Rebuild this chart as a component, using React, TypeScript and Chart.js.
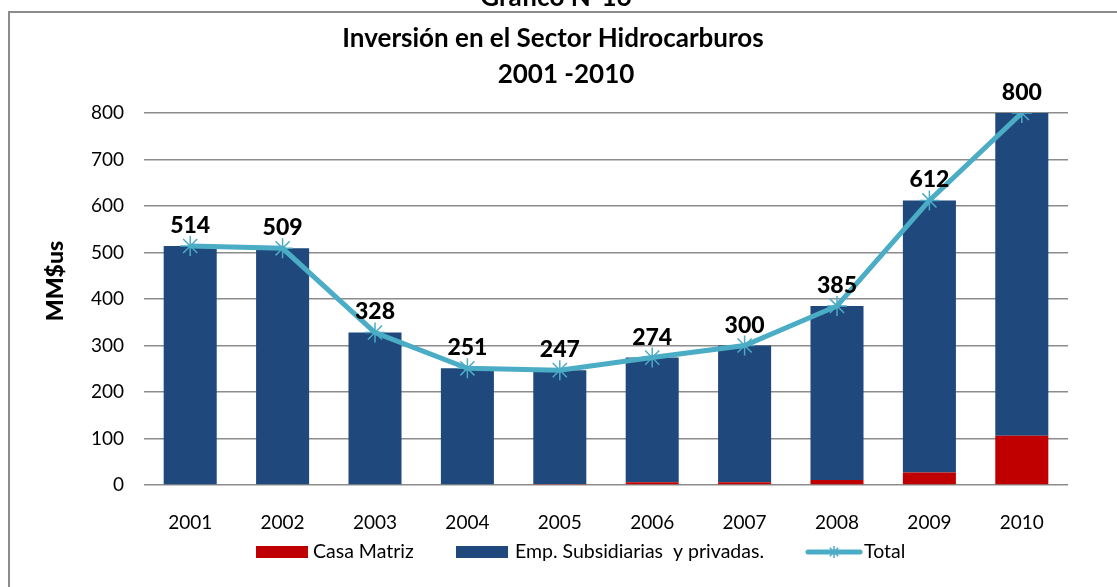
import { useEffect, useRef } from 'react';
import { Chart, registerables } from 'chart.js';

Chart.register(...registerables);

const FONT = 'Lato, "Open Sans", "DejaVu Sans", sans-serif';

const supTitle = 'Gráfico N°16';
const titleLines = ['Inversión en el Sector Hidrocarburos', '2001 -2010'];
const yAxisTitle = 'MM$us';

const years = ['2001', '2002', '2003', '2004', '2005', '2006', '2007', '2008', '2009', '2010'];
const casaMatriz = [0, 0, 0, 0, 2, 6, 6, 11, 27, 106];
const empSubsidiarias = [514, 509, 328, 251, 245, 268, 294, 374, 585, 694];
const total = [514, 509, 328, 251, 247, 274, 300, 385, 612, 800];

const seriesLabels = ['Casa Matriz', 'Emp. Subsidiarias  y privadas.', 'Total'];

const RED = '#C00000';
const BLUE = '#1F497D';
const AQUA = '#4BACC6';
const GRID = '#8c8c8c';

function drawStar(ctx: CanvasRenderingContext2D, x: number, y: number, r: number) {
  ctx.beginPath();
  for (let i = 0; i < 4; i++) {
    const a = (i * Math.PI) / 4;
    ctx.moveTo(x - Math.cos(a) * r, y - Math.sin(a) * r);
    ctx.lineTo(x + Math.cos(a) * r, y + Math.sin(a) * r);
  }
  ctx.stroke();
}

const decorPlugin = {
  id: 'decor',
  afterDraw(chart: any) {
    const ctx: CanvasRenderingContext2D = chart.ctx;
    ctx.save();
    // chart frame
    ctx.strokeStyle = GRID;
    ctx.lineWidth = 2;
    ctx.beginPath();
    ctx.moveTo(9, 600);
    ctx.lineTo(9, 12);
    ctx.lineTo(1130, 12);
    ctx.stroke();

    // titles
    ctx.fillStyle = '#000';
    ctx.textAlign = 'center';
    ctx.textBaseline = 'alphabetic';
    ctx.font = `bold 26px ${FONT}`;
    ctx.fillText(supTitle, 556, 6);
    ctx.fillText(titleLines[0], 553, 47);
    ctx.fillText(titleLines[1], 566, 83);

    // y axis title
    ctx.save();
    ctx.translate(56, 281);
    ctx.rotate(-Math.PI / 2);
    ctx.font = `900 23px ${FONT}`;
    ctx.textBaseline = 'middle';
    ctx.fillText(yAxisTitle, 0, 0);
    ctx.restore();

    // data labels on the total line
    const lineMeta = chart.getDatasetMeta(0);
    ctx.font = `900 23px ${FONT}`;
    ctx.textBaseline = 'alphabetic';
    lineMeta.data.forEach((pt: any, i: number) => {
      ctx.fillText(String(total[i]), pt.x, pt.y - 13);
    });

    // legend
    const ly = 552;
    ctx.font = `19.5px ${FONT}`;
    ctx.textAlign = 'left';
    ctx.textBaseline = 'middle';
    ctx.fillStyle = RED;
    ctx.fillRect(256, ly - 6, 52, 12);
    ctx.fillStyle = '#000';
    ctx.fillText(seriesLabels[0], 313, ly);
    ctx.fillStyle = BLUE;
    ctx.fillRect(456, ly - 6, 52, 12);
    ctx.fillStyle = '#000';
    ctx.fillText(seriesLabels[1], 515, ly);
    ctx.strokeStyle = AQUA;
    ctx.lineWidth = 5;
    ctx.lineCap = 'round';
    ctx.beginPath();
    ctx.moveTo(808, ly);
    ctx.lineTo(860, ly);
    ctx.stroke();
    ctx.lineCap = 'butt';
    ctx.lineWidth = 1.5;
    drawStar(ctx, 834, ly, 6);
    ctx.fillStyle = '#000';
    ctx.fillText(seriesLabels[2], 864, ly);
    ctx.restore();
  },
};

export default function App() {
  const ref = useRef<HTMLCanvasElement>(null);
  useEffect(() => {
    const canvas = ref.current;
    if (!canvas) return;
    const chart = new Chart(canvas, {
      type: 'bar',
      data: {
        labels: years,
        datasets: [
          {
            type: 'line',
            label: seriesLabels[2],
            data: total,
            borderColor: AQUA,
            backgroundColor: AQUA,
            borderWidth: 5,
            pointStyle: 'star',
            pointRadius: 10,
            pointBorderWidth: 1.5,
            pointBorderColor: AQUA,
            pointBackgroundColor: AQUA,
            tension: 0,
            fill: false,
            stack: 'line',
            order: 0,
          } as any,
          {
            type: 'bar',
            label: seriesLabels[0],
            data: casaMatriz,
            backgroundColor: RED,
            stack: 'bars',
            order: 1,
            barPercentage: 0.574,
            categoryPercentage: 1,
          },
          {
            type: 'bar',
            label: seriesLabels[1],
            data: empSubsidiarias,
            backgroundColor: BLUE,
            stack: 'bars',
            order: 1,
            barPercentage: 0.574,
            categoryPercentage: 1,
          },
        ],
      },
      options: {
        responsive: false,
        animation: false,
        events: [],
        layout: { padding: { top: 113, right: 49, left: 0, bottom: 0 } },
        plugins: {
          legend: { display: false },
          title: { display: false },
          tooltip: { enabled: false },
        },
        scales: {
          x: {
            stacked: true,
            grid: { display: false },
            border: { display: false },
            ticks: {
              color: '#000',
              font: { size: 19, family: FONT },
              padding: 18,
              maxRotation: 0,
            },
            afterFit: (s: any) => {
              s.height = 102;
            },
          },
          y: {
            stacked: true,
            min: 0,
            max: 800,
            ticks: {
              stepSize: 100,
              color: '#000',
              font: { size: 19, family: FONT },
              padding: 20,
            },
            grid: { color: GRID, lineWidth: 1.5, drawTicks: false },
            border: { display: false },
            afterFit: (s: any) => {
              s.width = 144;
            },
          },
        },
      },
      plugins: [decorPlugin],
    });
    return () => chart.destroy();
  }, []);
  return (
    <div style={{ position: 'fixed', left: 0, top: 0, width: 1117, height: 587, background: '#fff' }}>
      <canvas ref={ref} width={1117} height={587} style={{ display: 'block' }} />
    </div>
  );
}
